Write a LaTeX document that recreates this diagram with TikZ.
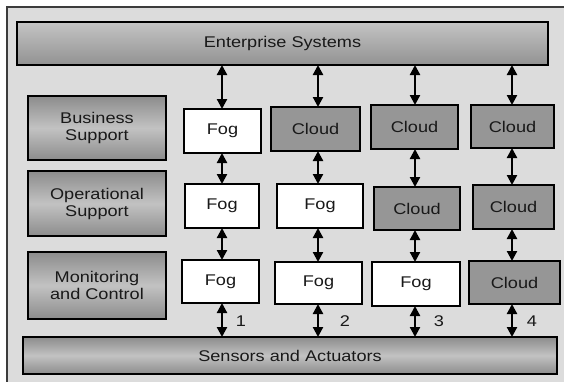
\documentclass[tikz,border=0pt]{standalone}
\usepackage{fontspec}
\setmainfont{Liberation Sans}[FakeStretch=1.17]
\usetikzlibrary{arrows.meta}

\definecolor{bggray}{HTML}{DCDCDC}
\definecolor{framegray}{HTML}{3C3C3C}
\definecolor{cloudgray}{HTML}{969696}
\definecolor{barlight}{HTML}{C4C4C4}
\definecolor{bardark}{HTML}{929292}
\definecolor{boxmid}{HTML}{C2C2C2}
\definecolor{boxedge}{HTML}{8C8C8C}

\tikzset{
  layerbar/.style={draw=black, line width=1.2pt, inner sep=0pt, outer sep=0pt,
    font=\fontsize{15.5}{17}\selectfont, align=center, text=black!90},
  topbar/.style={layerbar, top color=barlight, bottom color=bardark},
  sidebox/.style={layerbar, top color=boxedge, bottom color=boxedge, middle color=boxmid},
  fogbox/.style={layerbar, fill=white},
  cloudbox/.style={layerbar, fill=cloudgray},
  updown/.style={{Triangle[width=10pt,length=10pt]}-{Triangle[width=10pt,length=10pt]}, line width=2.2pt},
  numlabel/.style={font=\fontsize{15.5}{17}\selectfont, inner sep=0pt, text=black!90}
}

\begin{document}
\begin{tikzpicture}[x=1pt, y=-1pt]
  \useasboundingbox (0,0) rectangle (564,381);
  \clip (0,0) rectangle (564,381);

  % outer frame
  \draw[framegray, line width=1.5pt, fill=bggray] (7,7) rectangle (580,400);

  % layers
  \node[topbar, minimum width=531pt, minimum height=43pt] (ent) at (282.5,43.5) {Enterprise Systems};
  \node[sidebox, minimum width=534pt, minimum height=37pt] (sens) at (290,355.5) {Sensors and Actuators};

  \node[sidebox, minimum width=138pt, minimum height=64pt] (bus) at (97,128) {Business\\Support};
  \node[sidebox, minimum width=138pt, minimum height=65pt] (ope) at (97,203.5) {Operational\\Support};
  \node[sidebox, minimum width=138pt, minimum height=67pt] (mon) at (97,285.5) {Monitoring\\and Control};

  % column 1
  \node[fogbox, minimum width=77pt, minimum height=44pt] (f11) at (222.5,131) {Fog};
  \node[fogbox, minimum width=74pt, minimum height=44pt] (f12) at (222,206) {Fog};
  \node[fogbox, minimum width=77pt, minimum height=43pt] (f13) at (220.5,281.5) {Fog};

  % column 2
  \node[cloudbox, minimum width=89pt, minimum height=44pt] (c21) at (315.5,129) {Cloud};
  \node[fogbox, minimum width=86pt, minimum height=44pt] (f22) at (320,206) {Fog};
  \node[fogbox, minimum width=87pt, minimum height=42pt] (f23) at (318.5,283) {Fog};

  % column 3
  \node[cloudbox, minimum width=87pt, minimum height=44pt] (c31) at (414.5,127) {Cloud};
  \node[cloudbox, minimum width=86pt, minimum height=43pt] (c32) at (417,208.5) {Cloud};
  \node[fogbox, minimum width=88pt, minimum height=44pt] (f33) at (416,284) {Fog};

  % column 4
  \node[cloudbox, minimum width=83pt, minimum height=43pt] (c41) at (512.5,126.5) {Cloud};
  \node[cloudbox, minimum width=81pt, minimum height=44pt] (c42) at (513.5,207) {Cloud};
  \node[cloudbox, minimum width=91pt, minimum height=43pt] (c43) at (514.5,282.5) {Cloud};

  % arrow columns
  \coordinate (k1) at (222,0);
  \coordinate (k2) at (318,0);
  \coordinate (k3) at (415,0);
  \coordinate (k4) at (512,0);

  \draw[updown] (ent.south -| k1) -- (f11.north -| k1);
  \draw[updown] (f11.south -| k1) -- (f12.north -| k1);
  \draw[updown] (f12.south -| k1) -- (f13.north -| k1);
  \draw[updown] (f13.south -| k1) -- (sens.north -| k1);

  \draw[updown] (ent.south -| k2) -- (c21.north -| k2);
  \draw[updown] (c21.south -| k2) -- (f22.north -| k2);
  \draw[updown] (f22.south -| k2) -- (f23.north -| k2);
  \draw[updown] (f23.south -| k2) -- (sens.north -| k2);

  \draw[updown] (ent.south -| k3) -- (c31.north -| k3);
  \draw[updown] (c31.south -| k3) -- (c32.north -| k3);
  \draw[updown] (c32.south -| k3) -- (f33.north -| k3);
  \draw[updown] (f33.south -| k3) -- (sens.north -| k3);

  \draw[updown] (ent.south -| k4) -- (c41.north -| k4);
  \draw[updown] (c41.south -| k4) -- (c42.north -| k4);
  \draw[updown] (c42.south -| k4) -- (c43.north -| k4);
  \draw[updown] (c43.south -| k4) -- (sens.north -| k4);

  % scenario numbers
  \node[numlabel] (n1) at (241,321) {1};
  \node[numlabel] (n2) at (345,321) {2};
  \node[numlabel] (n3) at (439,321) {3};
  \node[numlabel] (n4) at (532,321) {4};
\end{tikzpicture}
\end{document}
